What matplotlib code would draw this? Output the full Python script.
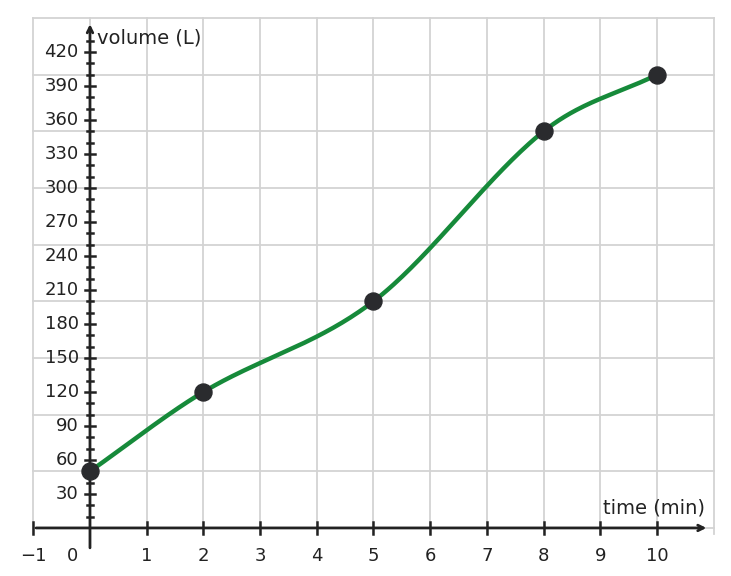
import matplotlib
matplotlib.use("Agg")
import matplotlib.pyplot as plt
import numpy as np

times = [0, 2, 5, 8, 10]
volumes = [50, 120, 200, 350, 400]
x_ticks = list(range(-1, 11))
y_ticks = list(range(30, 421, 30))

fig = plt.figure(figsize=(7.31, 5.76), dpi=100)
ax = fig.add_axes([0, 0, 1, 1])
ax.set_xlim(-1.587, 11.305)
ax.set_ylim(-42.4, 465.9)
ax.axis("off")

gc = "#d3d3d3"
for gx in range(-1, 12):
    ax.plot([gx, gx], [-5, 450], color=gc, lw=1.3, zorder=1)
for gy in range(0, 451, 50):
    ax.plot([-1, 11], [gy, gy], color=gc, lw=1.3, zorder=1)

ac = "#222222"
ax.annotate("", xy=(10.92, 0), xytext=(-1, 0),
            arrowprops=dict(arrowstyle="->", color=ac, lw=2), zorder=3)
ax.annotate("", xy=(0, 447), xytext=(0, -20),
            arrowprops=dict(arrowstyle="->", color=ac, lw=2), zorder=3)

# y ticks
for v in range(10, 440, 10):
    w = 0.09 if v % 30 == 0 else 0.05
    ax.plot([-w, w], [v, v], color=ac, lw=1.8, zorder=3)
for v in y_ticks:
    ax.text(-0.2, v, str(v), ha="right", va="center", fontsize=13, color=ac)
for v in x_ticks:
    if v != 0:
        ax.plot([v, v], [-5, 5], color=ac, lw=1.8, zorder=3)
        ax.text(v, -17, "\u22121" if v < 0 else str(v), ha="center", va="top", fontsize=13, color=ac)
ax.text(-0.3, -17, "0", ha="center", va="top", fontsize=13, color=ac)

ax.text(0.13, 432, "volume (L)", ha="left", va="center", fontsize=14, color=ac)
ax.text(10.85, 18, "time (min)", ha="right", va="center", fontsize=14, color=ac)

# smooth curve (Catmull-Rom through the data points)
px = np.array(times, float); py = np.array(volumes, float)
n = len(px)
m = np.zeros(n)
for i in range(n):
    if i == 0:
        m[i] = (py[1]-py[0])/(px[1]-px[0])
    elif i == n-1:
        m[i] = (py[-1]-py[-2])/(px[-1]-px[-2])
    else:
        m[i] = (py[i+1]-py[i-1])/(px[i+1]-px[i-1])
cx, cy = [], []
for i in range(n-1):
    h = px[i+1]-px[i]
    t = np.linspace(0, 1, 60)
    h00 = 2*t**3-3*t**2+1; h10 = t**3-2*t**2+t; h01 = -2*t**3+3*t**2; h11 = t**3-t**2
    cx.extend(px[i]+t*h)
    cy.extend(h00*py[i]+h10*h*m[i]+h01*py[i+1]+h11*h*m[i+1])
ax.plot(cx, cy, color="#168a3a", lw=3.2, zorder=4)
ax.scatter(times, volumes, s=150, color="#2a2b2e", zorder=5)

fig.savefig("out.png", dpi=100)
